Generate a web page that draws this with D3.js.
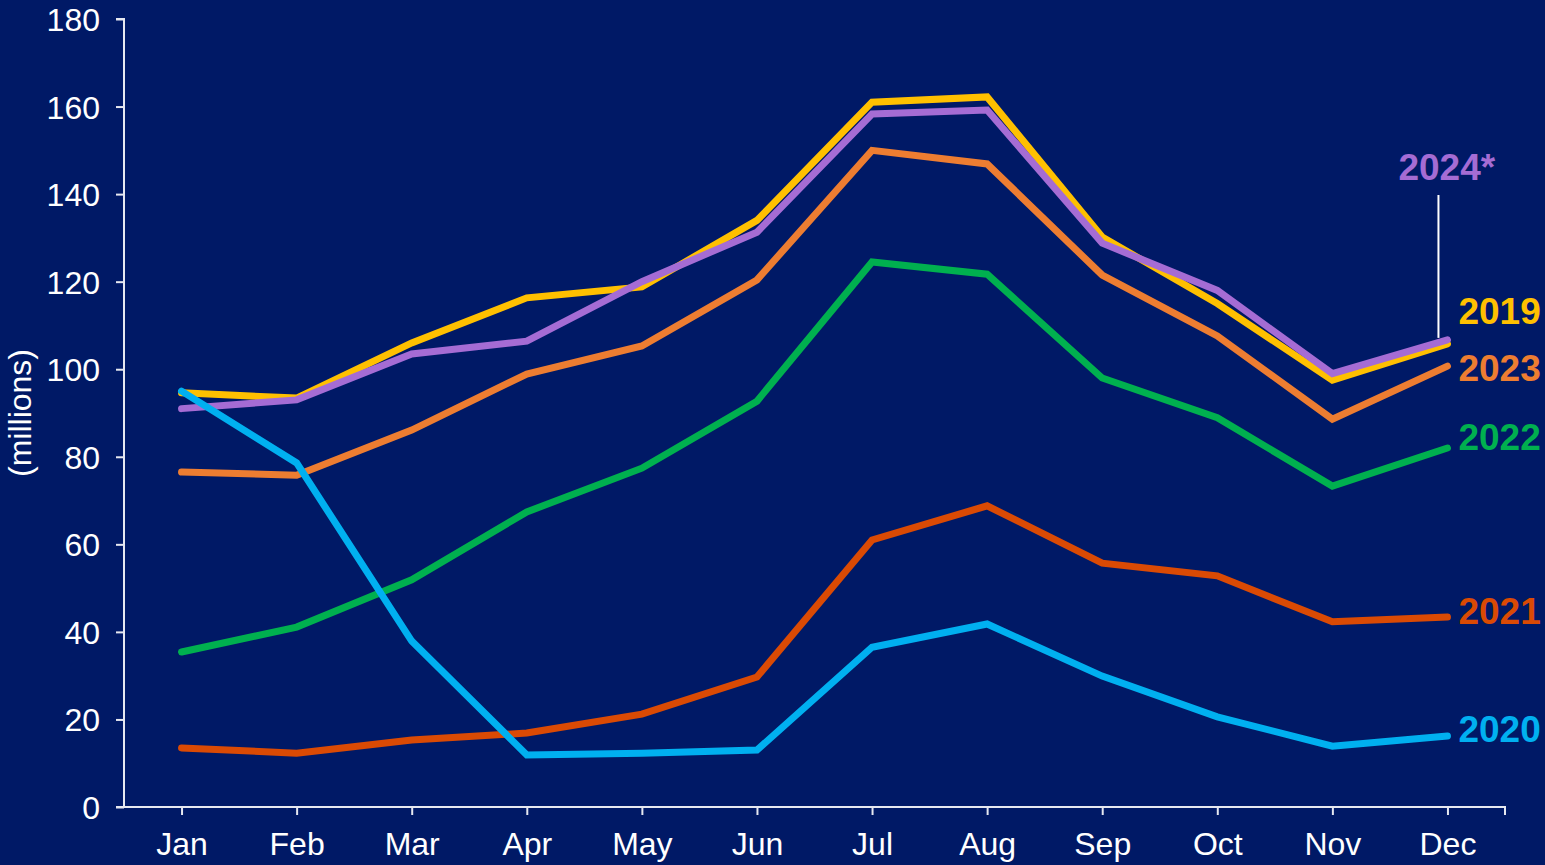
<!DOCTYPE html>
<html>
<head>
<meta charset="utf-8">
<script src="https://cdn.jsdelivr.net/npm/d3@7"></script>
<style>
html,body{margin:0;padding:0;background:#001966;}
svg{display:block;}
</style>
</head>
<body>
<svg id="chart" width="1545" height="865"></svg>
<script>
const months = ["Jan","Feb","Mar","Apr","May","Jun","Jul","Aug","Sep","Oct","Nov","Dec"];
const yTicks = [0,20,40,60,80,100,120,140,160,180];
const seriesNames = ["2021","2022","2023","2019","2024*","2020"];
const seriesColors = ["#DA4A04","#00B04F","#ED7D31","#FFC000","#A56CD4","#00B0F0"];
const v2019 = [94.6,93.4,106,116.3,118.8,134,161,162.2,130.2,115,97.5,105.8];
const v2020 = [95,78.6,37.9,11.9,12.3,13,36.5,41.8,29.9,20.6,13.9,16.2];
const v2021 = [13.5,12.3,15.3,16.9,21.2,29.7,61,68.8,55.7,52.8,42.3,43.4];
const v2022 = [35.4,41.1,51.9,67.4,77.4,92.7,124.5,121.7,98,88.9,73.3,82];
const v2023 = [76.5,75.8,86.1,98.9,105.3,120.4,150,146.9,121.5,107.6,88.6,100.7];
const v2024 = [91,93,103.5,106.4,120,131.3,158.3,159.2,128.8,118,99,106.7];
const seriesValues = [v2021,v2022,v2023,v2019,v2024,v2020];
const labelValues = [44.8,84.7,100.4,113.3,146.2,17.8]; // label vertical anchors (data units)

const svg = d3.select("#chart");
const W = 1545, H = 865;
svg.append("rect").attr("width",W).attr("height",H).attr("fill","#001966");

const x0 = 124, x1 = 1505, yTop = 19, yBot = 807;
const xBand = d3.scaleBand().domain(months).range([x0,x1]).padding(0);
const xc = m => xBand(m) + xBand.bandwidth()/2;
const y = d3.scaleLinear().domain([0,180]).range([yBot,yTop]);

const axisColor = "#E6E8F0";
const fontTick = "'Liberation Sans', Arial, sans-serif";

// Y axis
const yAxis = d3.axisLeft(y).tickValues(yTicks).tickSize(8).tickPadding(16);
const gy = svg.append("g").attr("transform",`translate(${x0},0)`).call(yAxis);
gy.select(".domain").attr("stroke",axisColor).attr("stroke-width",2).attr("d",`M-8,${yTop}H0V${yBot}`);
gy.selectAll(".tick line").attr("stroke",axisColor).attr("stroke-width",2);
gy.selectAll(".tick text").attr("fill","#FFFFFF").attr("font-family",fontTick).attr("font-size",32).attr("dy","0.36em");

// X axis
const xPoint = d3.scalePoint().domain(months).range([xc(months[0]), xc(months[11])]);
const xAxis = d3.axisBottom(xPoint).tickSize(8).tickPadding(10);
const gx = svg.append("g").attr("transform",`translate(0,${yBot})`).call(xAxis);
gx.select(".domain").attr("stroke",axisColor).attr("stroke-width",2).attr("d",`M${x0-8},0H${x1}V8`);
gx.selectAll(".tick line").attr("stroke",axisColor).attr("stroke-width",2);
gx.selectAll(".tick text").attr("fill","#FFFFFF").attr("font-family",fontTick).attr("font-size",32).attr("dy","0.95em");

// Y axis title
svg.append("text").attr("transform",`translate(31,${(yTop+yBot)/2}) rotate(-90)`)
  .attr("text-anchor","middle").attr("fill","#FFFFFF").attr("font-family",fontTick)
  .attr("font-size",32).text("(millions)");

// Lines
const line = d3.line().x((d,i)=>xc(months[i])).y(d=>y(d));
seriesValues.forEach((vals,k)=>{
  svg.append("path").datum(vals).attr("d",line).attr("fill","none")
    .attr("stroke",seriesColors[k]).attr("stroke-width",7)
    .attr("stroke-linejoin","miter").attr("stroke-linecap","round");
});

// leader line for 2024*
const decX = xc("Dec");
svg.append("line").attr("x1",decX-9).attr("x2",decX-9).attr("y1",195).attr("y2",y(v2024[11])-2)
  .attr("stroke","#FFFFFF").attr("stroke-width",2);

// Labels
seriesNames.forEach((n,k)=>{
  const isStar = n === "2024*";
  svg.append("text")
    .attr("x", isStar ? decX-49 : decX+11)
    .attr("y", y(labelValues[k]))
    .attr("dy","0.36em")
    .attr("fill",seriesColors[k]).attr("font-family",fontTick).attr("font-weight","bold")
    .attr("font-size",37).text(n);
});
</script>
</body>
</html>
